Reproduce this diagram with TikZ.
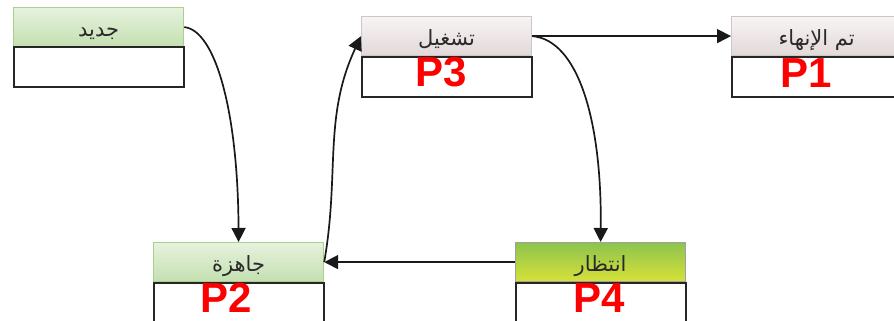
\documentclass[tikz,border=0pt]{standalone}
\usepackage{fontspec}
\usetikzlibrary{arrows.meta}
\newfontfamily\arabicfont[Script=Arabic]{DejaVu Sans}
\newfontfamily\plabelfont{Liberation Sans}
\TeXXeTstate=1
\definecolor{txtgray}{HTML}{2A2A2A}
\definecolor{pred}{HTML}{FF0000}
\definecolor{gtop}{HTML}{E6F2DE}
\definecolor{gbot}{HTML}{C4DFB0}
\definecolor{gbord}{HTML}{A9D18E}
\definecolor{ptop}{HTML}{F8F4F4}
\definecolor{pbot}{HTML}{E2D8D8}
\definecolor{pbord}{HTML}{C8C8C8}
\definecolor{wtop}{HTML}{8CC44E}
\definecolor{wbot}{HTML}{D8E138}
\definecolor{wbord}{HTML}{A0A0A0}
\tikzset{
  hdr/.style={rectangle, inner sep=0pt, minimum width=170pt, minimum height=39pt, anchor=north west,
    text height=24pt, text depth=5pt,
    font=\arabicfont\fontsize{21}{24}\selectfont, text=txtgray, line width=1.2pt},
  greenhdr/.style={hdr, draw=gbord, top color=gtop, bottom color=gbot},
  grayhdr/.style={hdr, draw=pbord, top color=ptop, bottom color=pbot},
  waithdr/.style={hdr, draw=wbord, top color=wtop, bottom color=wbot},
  bodybox/.style={rectangle, draw=black!85, line width=1.6pt, inner sep=0pt, minimum width=170pt, minimum height=40pt, anchor=north west, fill=white},
  plabel/.style={text=pred, font=\plabelfont\bfseries\fontsize{42}{44}\selectfont, inner sep=0pt},
  conn/.style={draw=black!90, line width=1.7pt, -{Triangle[length=14pt,width=14pt]}}
}
\newcommand{\hlabel}[1]{\beginR #1\endR}
\begin{document}
\begin{tikzpicture}[x=1pt,y=-1pt]
\useasboundingbox (0,0) rectangle (894,321);
\fill[white] (0,0) rectangle (894,321);
% New
\node[greenhdr] (hnew) at (13,7) {\hlabel{جديد}};
\node[bodybox] (bnew) at (13,46) {};
% Running
\node[grayhdr] (hrun) at (361,16) {\hlabel{تشغيل}};
\node[bodybox] (brun) at (361,56) {};
% Terminated
\node[grayhdr] (hend) at (731,16) {\hlabel{تم الإنهاء}};
\node[bodybox] (bend) at (731,56) {};
% Ready
\node[greenhdr] (hready) at (153,242) {\hlabel{جاهزة}};
\node[bodybox] (bready) at (153,282) {};
% Waiting
\node[waithdr] (hwait) at (515,242) {\hlabel{انتظار}};
\node[bodybox] (bwait) at (515,282) {};
% P labels
\node[plabel] (p3) at (441,72) {P3};
\node[plabel] (p1) at (806,73) {P1};
\node[plabel] (p2) at (226,298) {P2};
\node[plabel] (p4) at (599,298) {P4};
% connectors
\draw[conn] (hnew.east) .. controls (215,30) and (238,110) .. (hready.north);
\draw[conn] (hready.east) to[out=80,in=245] (hrun.west);
\draw[conn] (hrun.east) -- (hend.west);
\draw[conn] (hrun.east) .. controls (578,40) and (602,120) .. (hwait.north);
\draw[conn] (hwait.west) -- (hready.east);
\end{tikzpicture}
\end{document}
